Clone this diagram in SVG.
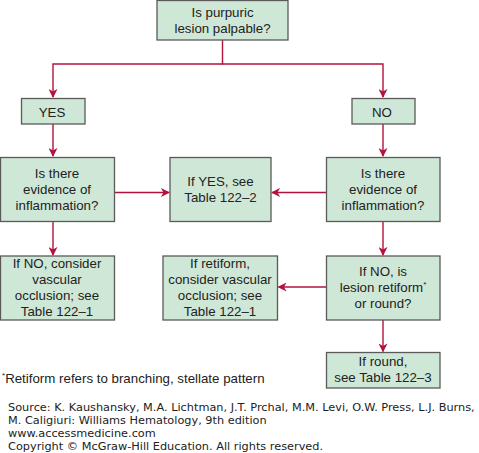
<svg xmlns="http://www.w3.org/2000/svg" width="479" height="453" viewBox="0 0 479 453">
<style>
.box{fill:#cfe7d6;stroke:#5a5a5a;stroke-width:1.3}
.t{font-family:"Liberation Sans",Arial,sans-serif;font-size:13.3px;fill:#222;text-anchor:middle}
.c{fill:none;stroke:#b3123d;stroke-width:1.4}
.src{font-family:"DejaVu Sans",Verdana,sans-serif;font-size:11.3px;fill:#222}
</style>
<defs>
<marker id="ah" viewBox="0 0 10 10" refX="9" refY="5" markerWidth="9" markerHeight="9" markerUnits="userSpaceOnUse" orient="auto">
<path d="M0,0 L10,5 L0,10 L3,5 Z" fill="#b3123d"/>
</marker>
</defs>
<rect width="479" height="453" fill="#fff"/>
<g id="connectors">
<path class="c" d="M222.5,40 V64 H53 V97" marker-end="url(#ah)"/>
<path class="c" d="M222.5,64 H383 V97" marker-end="url(#ah)"/>
<path class="c" d="M53,124 V156" marker-end="url(#ah)"/>
<path class="c" d="M383,124 V156" marker-end="url(#ah)"/>
<path class="c" d="M114.5,192.5 H169" marker-end="url(#ah)"/>
<path class="c" d="M326.5,192.5 H272" marker-end="url(#ah)"/>
<path class="c" d="M53,222 V255" marker-end="url(#ah)"/>
<path class="c" d="M383,222 V255" marker-end="url(#ah)"/>
<path class="c" d="M326.5,287 H278.5" marker-end="url(#ah)"/>
<path class="c" d="M383,320 V351.5" marker-end="url(#ah)"/>
</g>
<g id="n1"><rect class="box" x="157" y="0.5" width="131" height="39.5"/><text class="t" x="222.5" y="17">Is purpuric</text><text class="t" x="222.5" y="33">lesion palpable?</text></g>
<g id="yes"><rect class="box" x="21.5" y="98.5" width="63.5" height="25.5"/><text class="t" x="52" y="117">YES</text></g>
<g id="no"><rect class="box" x="352" y="98.5" width="63" height="25.5"/><text class="t" x="382" y="117">NO</text></g>
<g id="l2"><rect class="box" x="0.5" y="157.5" width="114" height="64"/><text class="t" x="57" y="178">Is there</text><text class="t" x="57" y="194">evidence of</text><text class="t" x="57" y="210">inflammation?</text></g>
<g id="m2"><rect class="box" x="170" y="157.5" width="101" height="64"/><text class="t" x="220.5" y="186">If YES, see</text><text class="t" x="220.5" y="202">Table 122–2</text></g>
<g id="r2"><rect class="box" x="326.5" y="157.5" width="113.5" height="64"/><text class="t" x="383" y="178">Is there</text><text class="t" x="383" y="194">evidence of</text><text class="t" x="383" y="210">inflammation?</text></g>
<g id="l3"><rect class="box" x="0.5" y="256" width="114" height="64"/><text class="t" x="57" y="268">If NO, consider</text><text class="t" x="57" y="284">vascular</text><text class="t" x="57" y="300">occlusion; see</text><text class="t" x="57" y="316">Table 122–1</text></g>
<g id="m3"><rect class="box" x="163" y="256" width="114.5" height="64"/><text class="t" x="220" y="268">If retiform,</text><text class="t" x="220" y="284">consider vascular</text><text class="t" x="220" y="300">occlusion; see</text><text class="t" x="220" y="316">Table 122–1</text></g>
<g id="r3"><rect class="box" x="326.5" y="256" width="113.5" height="64"/><text class="t" x="383" y="276">If NO, is</text><text class="t" x="383" y="292">lesion retiform<tspan font-size="8" dy="-5">*</tspan></text><text class="t" x="383" y="308">or round?</text></g>
<g id="r4"><rect class="box" x="326.5" y="352.5" width="113.5" height="35.5"/><text class="t" x="383" y="366">If round,</text><text class="t" x="383" y="382">see Table 122–3</text></g>
<text x="2" y="383" font-family="Liberation Sans, Arial, sans-serif" font-size="13.3" fill="#222"><tspan font-size="8" dy="-5">*</tspan><tspan dy="5">Retiform refers to branching, stellate pattern</tspan></text>
<text class="src" x="8" y="411">Source: K. Kaushansky, M.A. Lichtman, J.T. Prchal, M.M. Levi, O.W. Press, L.J. Burns,</text>
<text class="src" x="8" y="424">M. Caligiuri: Williams Hematology, 9th edition</text>
<text class="src" x="8" y="437">www.accessmedicine.com</text>
<text class="src" x="8" y="450">Copyright © McGraw-Hill Education.  All rights reserved.</text>
</svg>
